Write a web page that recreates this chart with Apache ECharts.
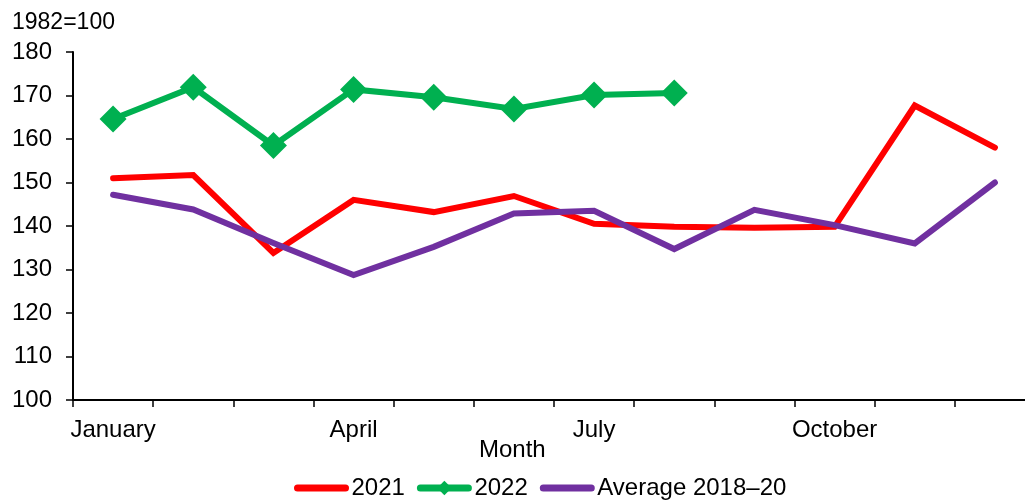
<!DOCTYPE html>
<html>
<head>
<meta charset="utf-8">
<script src="https://cdn.jsdelivr.net/npm/echarts@6/dist/echarts.min.js"></script>
<style>
  html, body { margin: 0; padding: 0; background: #fff; }
  #chart { width: 1025px; height: 500px; }
</style>
</head>
<body>
<div id="chart"></div>
<script>
// Monthly index values (1982=100)
const months = ['January', 'February', 'March', 'April', 'May', 'June',
                'July', 'August', 'September', 'October', 'November', 'December'];
const shownMonths = ['January', 'April', 'July', 'October'];
const values2021 = [151.0, 151.7, 133.8, 146.0, 143.2, 146.9, 140.5, 139.8, 139.6, 139.8, 167.7, 158.0];
const values2022 = [164.6, 171.9, 158.5, 171.4, 169.6, 166.9, 170.1, 170.6];
const valuesAvg = [147.2, 143.8, 136.1, 128.7, 135.2, 142.9, 143.5, 134.7, 143.7, 140.2, 136.0, 150.0];
const yTicks = { min: 100, max: 180, step: 10 };

const FONT = 'Liberation Sans, Arial, sans-serif';
const FS = 24;

const chart = echarts.init(document.getElementById('chart'), null, { renderer: 'canvas' });

chart.setOption({
  animation: false,
  textStyle: { fontFamily: FONT, color: '#000' },
  grid: {
    left: 73, top: 52, height: 348, width: 962,
    containLabel: false,
    outerBoundsMode: 'none'
  },
  xAxis: {
    type: 'category',
    data: months,
    boundaryGap: true,
    axisLine: { lineStyle: { color: '#000', width: 2 } },
    axisTick: { show: true, interval: 0, length: 7, lineStyle: { color: '#000', width: 1.5 } },
    axisLabel: {
      interval: 0,
      margin: 18,
      fontSize: FS,
      fontFamily: FONT,
      color: '#000',
      formatter: v => shownMonths.includes(v) ? v : ''
    },
    splitLine: { show: false }
  },
  yAxis: {
    type: 'value',
    min: yTicks.min,
    max: yTicks.max,
    interval: yTicks.step,
    axisLine: { show: true, lineStyle: { color: '#000', width: 2 } },
    axisTick: { show: true, length: 7, inside: false, lineStyle: { color: '#000', width: 1.5 } },
    axisLabel: { fontSize: FS, fontFamily: FONT, color: '#000', margin: 21 },
    splitLine: { show: false }
  },
  legend: {
    bottom: 0,
    left: 294,
    padding: 0,
    itemWidth: 48,
    itemHeight: 18,
    itemGap: 12,
    lineStyle: { width: 7, cap: 'round' },
    textStyle: { fontSize: FS, fontFamily: FONT, color: '#000', padding: [0, 0, 0, 1] },
    data: [
      { name: '2021', itemStyle: { opacity: 0 } },
      { name: '2022' },
      { name: 'Average 2018–20', itemStyle: { opacity: 0 } }
    ]
  },
  graphic: [
    {
      type: 'text',
      left: 12,
      top: 11,
      style: { text: '1982=100', font: '23px ' + FONT, fill: '#000' }
    },
    {
      type: 'text',
      left: 479,
      top: 438,
      style: { text: 'Month', font: FS + 'px ' + FONT, fill: '#000' }
    }
  ],
  series: [
    {
      name: '2021',
      type: 'line',
      data: values2021,
      symbol: 'none',
      lineStyle: { color: '#FF0000', width: 6, cap: 'round', join: 'miter' },
      itemStyle: { color: '#FF0000' },
      z: 2
    },
    {
      name: 'Average 2018–20',
      type: 'line',
      data: valuesAvg,
      symbol: 'none',
      lineStyle: { color: '#7030A0', width: 6, cap: 'round', join: 'miter' },
      itemStyle: { color: '#7030A0' },
      z: 3
    },
    {
      name: '2022',
      type: 'line',
      data: values2022,
      symbol: 'diamond',
      symbolSize: 27,
      showAllSymbol: true,
      lineStyle: { color: '#00B050', width: 6, join: 'miter' },
      itemStyle: { color: '#00B050' },
      z: 4
    }
  ]
});
</script>
</body>
</html>
